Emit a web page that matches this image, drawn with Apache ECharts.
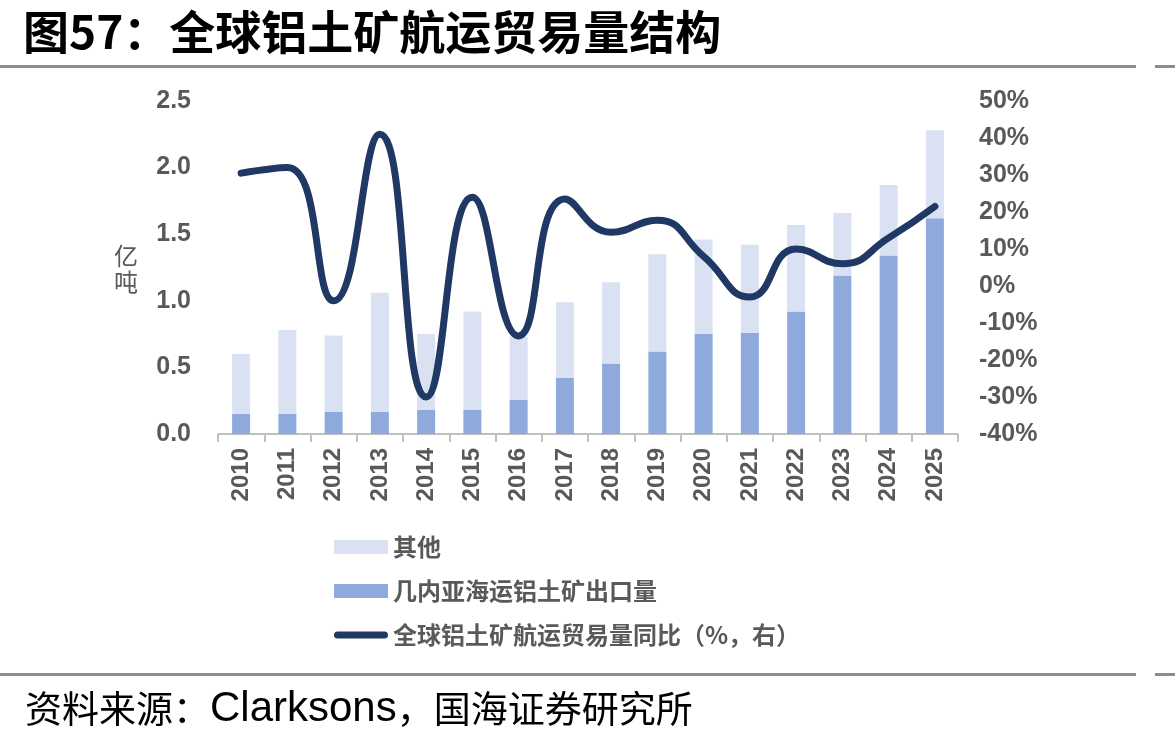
<!DOCTYPE html>
<html>
<head>
<meta charset="utf-8">
<script src="https://cdn.jsdelivr.net/npm/echarts@6/dist/echarts.min.js"></script>
<style>
  html, body { margin: 0; padding: 0; background: #fff; }
  #chart { width: 1175px; height: 741px; }
</style>
</head>
<body>
<div id="chart"></div>
<script>
// 数据
const years = ['2010', '2011', '2012', '2013', '2014', '2015', '2016', '2017',
               '2018', '2019', '2020', '2021', '2022', '2023', '2024', '2025'];
// 几内亚海运铝土矿出口量（亿吨）
const guineaExports = [0.15, 0.15, 0.165, 0.165, 0.18, 0.18, 0.255, 0.42,
                       0.53, 0.62, 0.75, 0.76, 0.92, 1.19, 1.34, 1.62];
// 其他（亿吨）
const otherExports = [0.45, 0.63, 0.575, 0.895, 0.57, 0.74, 0.475, 0.57,
                      0.61, 0.73, 0.71, 0.66, 0.65, 0.47, 0.53, 0.66];
// 全球铝土矿航运贸易量同比（%）
const tradeYoy = [30.5, 32, -4, 41, -30, 24, -13.5, 23.5,
                  14.5, 17.8, 8, -3, 10, 6, 13, 21.5];

const leftTicks = { min: 0, max: 2.5, interval: 0.5 };
const rightTicks = { min: -40, max: 50, interval: 10 };

const chart = echarts.init(document.getElementById('chart'));
const numFont = 'Liberation Sans, Arial, Noto Sans CJK SC, sans-serif';
const cjkFont = 'Noto Sans CJK SC, sans-serif';
const grey = '#595959';
const navy = '#1f3864';

const option = {
    backgroundColor: '#ffffff',
    animation: false,
    title: [
        {
            text: '图57：全球铝土矿航运贸易量结构',
            left: 18,
            top: 4,
            textStyle: { fontFamily: cjkFont, fontSize: 46, fontWeight: 'bold', color: '#000' }
        },
        {
            // 来源：中文与英文字号不同
            text: '{a|资料来源：}{b|Clarksons}{a|，国海证券研究所}',
            left: 20,
            top: 683,
            textStyle: {
                fontWeight: 'normal',
                rich: {
                    a: { fontFamily: cjkFont, fontSize: 37, fontWeight: 'normal', color: '#000' },
                    b: { fontFamily: numFont, fontSize: 42, fontWeight: 'normal', color: '#000' }
                }
            }
        }
    ],
    graphic: [
        // 标题下方和来源上方的灰线
        { type: 'rect', shape: { x: 0, y: 65, width: 1136, height: 3 }, style: { fill: '#8c8c8c' } },
        { type: 'rect', shape: { x: 1155, y: 65, width: 20, height: 3 }, style: { fill: '#8c8c8c' } },
        { type: 'rect', shape: { x: 0, y: 673, width: 1136, height: 3 }, style: { fill: '#8c8c8c' } },
        { type: 'rect', shape: { x: 1155, y: 673, width: 20, height: 3 }, style: { fill: '#8c8c8c' } },
        // 左轴单位
        {
            type: 'text', left: 114, top: 243,
            style: { text: '亿\n吨', font: '24px ' + cjkFont, fill: grey, lineHeight: 26 }
        }
    ],
    legend: {
        orient: 'vertical',
        left: 329,
        top: 530,
        itemGap: 20,
        itemWidth: 54,
        itemHeight: 14,
        symbolKeepAspect: true,
        data: [
            { name: '其他', icon: 'rect' },
            { name: '几内亚海运铝土矿出口量', icon: 'rect' },
            {
                name: '全球铝土矿航运贸易量同比（%，右）',
                icon: 'path://M4,0 L50,0 A3.5,3.5 0 0 1 50,7 L4,7 A3.5,3.5 0 0 1 4,0 Z'
            }
        ],
        textStyle: { fontFamily: cjkFont, fontSize: 24, fontWeight: 'bold', color: grey }
    },
    grid: { left: 218, right: 217, top: 101, bottom: 307, containLabel: false },
    xAxis: {
        type: 'category',
        data: years,
        boundaryGap: true,
        axisLine: { lineStyle: { color: '#bfbfbf', width: 2 } },
        axisTick: { show: true, length: 8, lineStyle: { color: '#bfbfbf', width: 2 } },
        axisLabel: {
            rotate: 90, margin: 14, interval: 0,
            fontFamily: numFont, fontSize: 24, fontWeight: 'bold', color: grey
        }
    },
    yAxis: [
        {
            type: 'value',
            min: leftTicks.min, max: leftTicks.max, interval: leftTicks.interval,
            axisLine: { show: false },
            axisTick: { show: false },
            splitLine: { show: false },
            axisLabel: {
                margin: 27,
                formatter: v => v.toFixed(1),
                fontFamily: numFont, fontSize: 25, fontWeight: 'bold', color: grey
            }
        },
        {
            type: 'value',
            position: 'right',
            min: rightTicks.min, max: rightTicks.max, interval: rightTicks.interval,
            axisLine: { show: false },
            axisTick: { show: false },
            splitLine: { show: false },
            axisLabel: {
                margin: 21,
                formatter: '{value}%',
                fontFamily: numFont, fontSize: 25, fontWeight: 'bold', color: grey
            }
        }
    ],
    series: [
        {
            name: '几内亚海运铝土矿出口量',
            type: 'bar',
            stack: 'total',
            barWidth: 18,
            data: guineaExports,
            itemStyle: { color: '#8eaadc' }
        },
        {
            name: '其他',
            type: 'bar',
            stack: 'total',
            barWidth: 18,
            data: otherExports,
            itemStyle: { color: '#d9e1f2' }
        },
        {
            name: '全球铝土矿航运贸易量同比（%，右）',
            type: 'line',
            yAxisIndex: 1,
            smooth: 0.5,
            symbol: 'none',
            data: tradeYoy,
            lineStyle: { color: navy, width: 7, cap: 'round' },
            itemStyle: { color: navy }
        }
    ]
};

chart.setOption(option);
window.addEventListener('resize', () => chart.resize());
</script>
</body>
</html>
